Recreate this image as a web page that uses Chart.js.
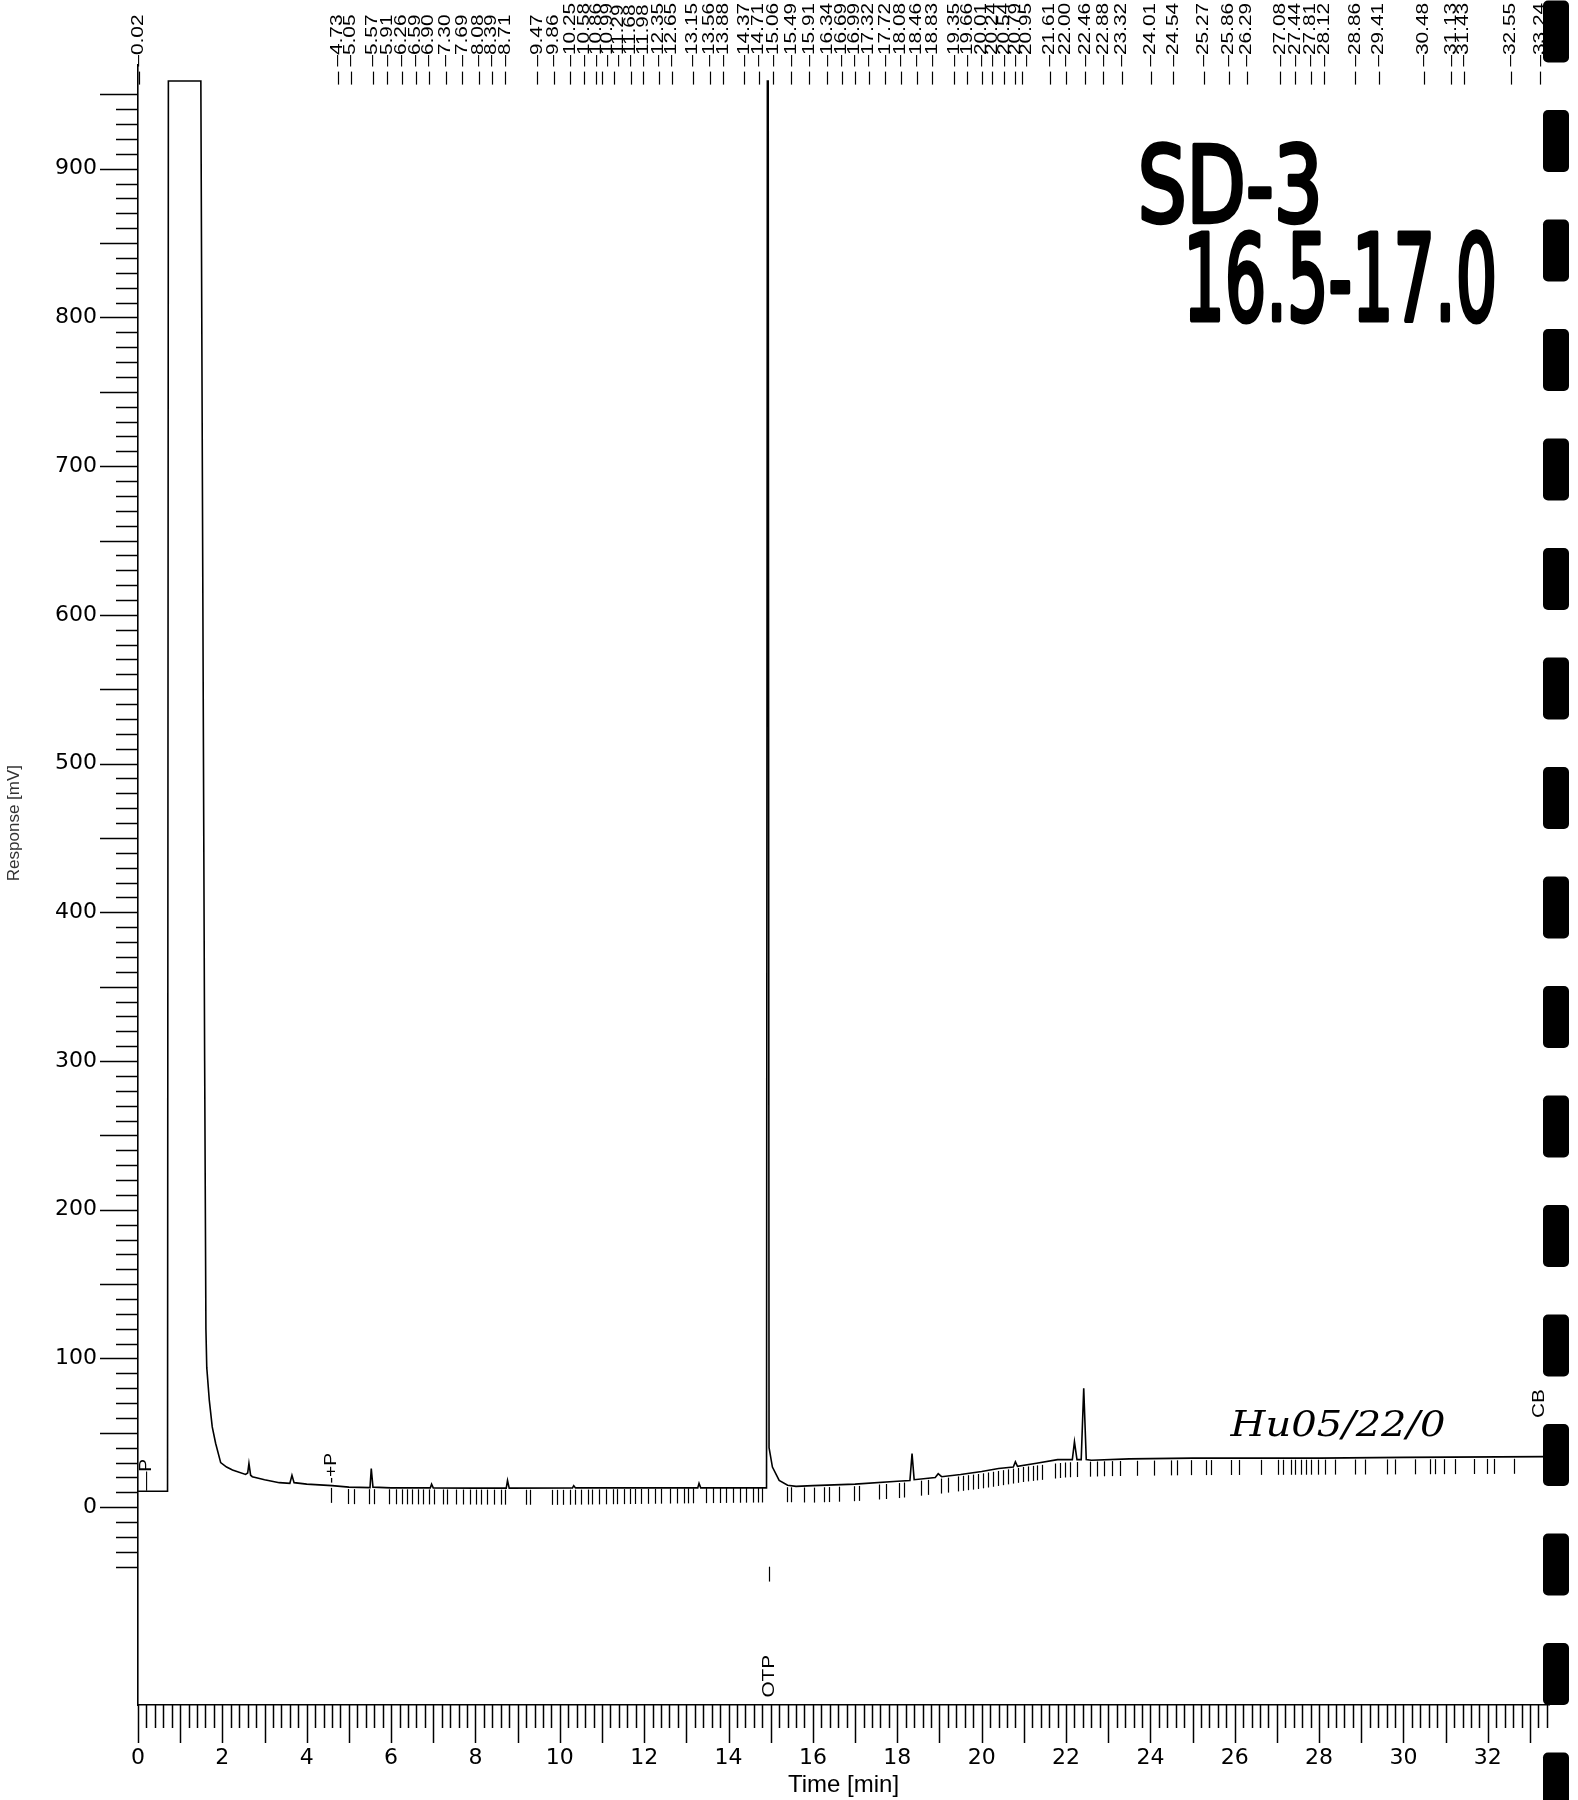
<!DOCTYPE html>
<html>
<head>
<meta charset="utf-8">
<script src="https://cdn.jsdelivr.net/npm/chart.js@4.4.1/dist/chart.umd.min.js"></script>
<style>
  body { margin: 0; background: #fff; }
  #wrap { width: 1578px; height: 1800px; }
</style>
</head>
<body>
<div id="wrap"><canvas id="chromCanvas" width="1578" height="1800"></canvas></div>
<script>
// detector trace: time (min) and response (mV)
var traceTime = [0, 0.70, 0.72, 1.49, 1.58, 1.61, 1.63, 1.69, 1.76, 1.84, 1.96, 2.10, 2.24, 2.55, 2.60, 2.63, 2.67, 2.71,
  3.00, 3.35, 3.60, 3.65, 3.70, 4.00, 4.60, 5.00, 5.50, 5.53, 5.57, 6.00, 6.93, 6.96, 7.00, 8.00, 8.73, 8.76, 8.80,
  10.30, 10.33, 10.37, 13.27, 13.30, 13.34, 14.90, 14.92, 14.94, 14.96, 15.04, 15.20, 15.40, 15.60, 16.00, 17.00,
  18.00, 18.30, 18.35, 18.40, 18.90, 18.97, 19.05, 19.50, 20.00, 20.40, 20.75, 20.80, 20.85, 21.30, 21.80, 22.15,
  22.20, 22.26, 22.36, 22.42, 22.48, 22.60, 23.50, 25.00, 28.00, 30.00, 33.40];
var traceResp = [10.7, 10.7, 959, 959, 300, 120, 94, 72, 54, 43, 30, 27, 25, 22, 23, 29.5, 21.5, 20.5,
  18.5, 16.5, 16, 21.5, 16.5, 15.5, 14.5, 13.5, 13.2, 26, 13.5, 13, 13, 15.5, 13, 12.8, 12.8, 18, 12.8,
  13, 14.5, 13, 13, 16, 13, 13, 959, 959, 40, 27, 18, 14.8, 14, 14.5, 15.5,
  17.5, 18, 36, 18.5, 20, 22.5, 20.5, 22, 24, 26, 27, 30.5, 27.5, 29.5, 32, 32,
  44, 32, 32, 80, 32, 31.6, 32.5, 33, 33, 33.5, 34];

// retention times printed along the top
var peakLabels = ['0.02', '4.73', '5.05', '5.57', '5.91', '6.26', '6.59', '6.90', '7.30', '7.69', '8.08', '8.39', '8.71',
  '9.47', '9.86', '10.25', '10.58', '10.86', '10.99', '11.29', '11.68', '11.98', '12.35', '12.65', '13.15', '13.56',
  '13.88', '14.37', '14.71', '15.06', '15.49', '15.91', '16.34', '16.69', '16.99', '17.32', '17.72', '18.08', '18.46',
  '18.83', '19.35', '19.66', '20.01', '20.24', '20.54', '20.79', '20.95', '21.61', '22.00', '22.46', '22.88', '23.32',
  '24.01', '24.54', '25.27', '25.86', '26.29', '27.08', '27.44', '27.81', '28.12', '28.86', '29.41', '30.48', '31.13',
  '31.43', '32.55', '33.24'];

// integration event ticks hanging under the baseline (min)
var eventTimes = [4.58, 4.97, 5.11, 5.48, 5.59, 5.96, 6.12, 6.27, 6.38, 6.49, 6.64, 6.75, 6.91, 7.01, 7.23, 7.33, 7.54,
  7.70, 7.86, 8.02, 8.13, 8.28, 8.44, 8.60, 8.71, 9.19, 9.29, 9.82, 9.93, 10.08, 10.24, 10.35, 10.51, 10.67, 10.77,
  10.93, 11.09, 11.25, 11.35, 11.51, 11.67, 11.78, 11.93, 12.09, 12.25, 12.41, 12.62, 12.78, 12.94, 13.05, 13.15,
  13.47, 13.63, 13.79, 13.95, 14.11, 14.27, 14.42, 14.58, 14.69, 14.80, 15.38, 15.49, 15.79, 16.03, 16.26, 16.38,
  16.62, 16.97, 17.09, 17.56, 17.73, 18.03, 18.15, 18.56, 18.74, 19.03, 19.21, 19.44, 19.56, 19.68, 19.79, 19.91,
  20.03, 20.15, 20.26, 20.38, 20.50, 20.62, 20.74, 20.85, 20.97, 21.09, 21.21, 21.32, 21.44, 21.74, 21.85, 21.97,
  22.09, 22.27, 22.56, 22.74, 22.91, 23.09, 23.27, 23.68, 24.09, 24.50, 24.62, 24.97, 25.32, 25.44, 25.91, 26.09,
  26.62, 27.03, 27.15, 27.33, 27.44, 27.56, 27.68, 27.80, 27.97, 28.15, 28.38, 28.86, 29.09, 29.62, 29.80, 30.27,
  30.62, 30.74, 30.97, 31.21, 31.68, 31.97, 32.15, 32.62];
// baseline level under the event ticks (min / mV)
var baseTime = [4.5, 5, 10, 15.4, 16, 17, 18, 19, 20, 21, 22, 23, 25, 30, 33.4];
var baseResp = [14.5, 13.5, 13, 14.8, 14.5, 15.5, 17.5, 20.5, 24, 28.5, 31.5, 32.3, 33, 33.5, 34];

var xTickLabels = [0, 2, 4, 6, 8, 10, 12, 14, 16, 18, 20, 22, 24, 26, 28, 30, 32];
var yTickLabels = [0, 100, 200, 300, 400, 500, 600, 700, 800, 900];

var tracePoints = traceTime.map(function(t, i) { return { x: t, y: traceResp[i] }; });

function baselineAt(t) {
  for (var i = 1; i < baseTime.length; i++) {
    if (t <= baseTime[i]) {
      var f = (t - baseTime[i - 1]) / (baseTime[i] - baseTime[i - 1]);
      return baseResp[i - 1] + f * (baseResp[i] - baseResp[i - 1]);
    }
  }
  return baseResp[baseResp.length - 1];
}

function seg(ctx, x1, y1, x2, y2) {
  ctx.beginPath(); ctx.moveTo(x1, y1); ctx.lineTo(x2, y2); ctx.stroke();
}

// rotated printer text, reading bottom to top
function vText(ctx, str, x, yBottom, size, stretch, align) {
  ctx.save();
  ctx.translate(x, yBottom);
  ctx.rotate(-Math.PI / 2);
  ctx.scale(stretch, 1);
  ctx.font = size + 'px "Liberation Sans"';
  ctx.textAlign = align || 'left';
  ctx.textBaseline = 'middle';
  ctx.fillText(str, 0, 0);
  ctx.restore();
}

// pen notes, squeezed to the size they have on the paper
function handText(ctx, str, x, yBase, font, w, h, capRatio, size, pen) {
  ctx.save();
  ctx.font = font;
  var mw = ctx.measureText(str).width;
  ctx.translate(x, yBase);
  ctx.scale(w / mw, h / (capRatio * size));
  ctx.textAlign = 'left';
  ctx.textBaseline = 'alphabetic';
  ctx.lineJoin = 'round';
  ctx.lineWidth = pen;
  ctx.fillText(str, 0, 0);
  if (pen > 0) ctx.strokeText(str, 0, 0);
  ctx.restore();
}

var paperMarks = {
  id: 'paperMarks',
  afterDraw: function(chart) {
    var ctx = chart.ctx, xs = chart.scales.x, ys = chart.scales.y, area = chart.chartArea;
    ctx.save();
    ctx.strokeStyle = '#000';
    ctx.fillStyle = '#000';
    ctx.lineWidth = 1.5;

    // y ticks every 10 mV, longer every 50
    for (var v = -40; v <= 950; v += 10) {
      var py = Math.round(ys.getPixelForValue(v)) + 0.5;
      seg(ctx, area.left - (v % 50 === 0 ? 38 : 22), py, area.left, py);
    }
    // x ticks every 0.2 min, longer each minute
    for (var i = 0; i <= 167; i++) {
      var px = Math.round(xs.getPixelForValue(i / 5)) + 0.5;
      seg(ctx, px, area.bottom, px, area.bottom + (i % 5 === 0 ? 38 : 23));
    }

    // peak labels along the top
    var prev = -1e9;
    ctx.lineWidth = 1.2;
    peakLabels.forEach(function(s) {
      var ideal = xs.getPixelForValue(parseFloat(s));
      var lx = Math.max(ideal, prev + 11);
      prev = lx;
      vText(ctx, '\u2013' + s, lx, area.top + 2, 16, 1.3);
      seg(ctx, Math.round(ideal) + 0.5, area.top + 7, Math.round(ideal) + 0.5, area.top + 20);
    });

    // event ticks under the baseline
    eventTimes.forEach(function(t) {
      var ex = Math.round(xs.getPixelForValue(t)) + 0.5;
      var ey = ys.getPixelForValue(baselineAt(t));
      seg(ctx, ex, ey + 2, ex, ey + 17);
    });

    // peak / event annotations
    vText(ctx, '\u2014P', xs.getPixelForValue(0.21), ys.getPixelForValue(11), 16, 1.2);
    vText(ctx, '-+P', xs.getPixelForValue(4.6), ys.getPixelForValue(16), 16, 1.2);
    vText(ctx, 'OTP', xs.getPixelForValue(14.97), ys.getPixelForValue(-128), 16, 1.3);
    vText(ctx, 'CB', xs.getPixelForValue(33.22), ys.getPixelForValue(60), 16, 1.3);
    var ox = Math.round(xs.getPixelForValue(14.97)) + 0.5;
    seg(ctx, ox, ys.getPixelForValue(-40), ox, ys.getPixelForValue(-50));

    // y axis title
    ctx.fillStyle = '#333';
    vText(ctx, 'Response [mV]', area.left - 124, ys.getPixelForValue(460), 17, 1.0, 'center');

    // hand-written notes
    ctx.fillStyle = '#000';
    ctx.strokeStyle = '#000';
    handText(ctx, 'SD-3', xs.getPixelForValue(23.7), ys.getPixelForValue(864),
      '72px "DejaVu Sans"', 185, 77, 0.729, 72, 3);
    handText(ctx, '16.5-17.0', xs.getPixelForValue(24.78), ys.getPixelForValue(798),
      '72px "DejaVu Sans"', 314, 87, 0.729, 72, 3);
    handText(ctx, 'Hu05/22/0', xs.getPixelForValue(25.9), ys.getPixelForValue(48),
      'italic 28px "DejaVu Serif"', 215, 26, 0.729, 28, 0);

    // sprocket holes of the chart paper at the right edge
    for (var k = -1; k <= 15; k++) {
      var by = 110 + k * 109.5;
      ctx.beginPath();
      ctx.roundRect(1543, by, 26, 62, 5);
      ctx.fill();
    }
    ctx.restore();
  }
};

var ctx = document.getElementById('chromCanvas').getContext('2d');
var chrom = new Chart(ctx, {
  type: 'line',
  data: {
    datasets: [{
      label: 'Response',
      data: tracePoints,
      borderColor: '#000',
      borderWidth: 1.6,
      pointRadius: 0,
      tension: 0,
      fill: false
    }]
  },
  options: {
    responsive: false,
    animation: false,
    layout: { padding: { left: 5, right: 29, top: 64.6, bottom: 0 } },
    plugins: { legend: { display: false }, tooltip: { enabled: false } },
    scales: {
      x: {
        type: 'linear', min: 0, max: 33.45,
        grid: { display: false, drawTicks: false },
        border: { display: true, color: '#000', width: 1.6 },
        afterBuildTicks: function(s) { s.ticks = xTickLabels.map(function(v) { return { value: v }; }); },
        afterFit: function(s) { s.height = 95; },
        ticks: { padding: 40, color: '#000', autoSkip: false, maxRotation: 0,
          font: { family: 'DejaVu Sans', size: 22 } },
        title: { display: true, text: 'Time [min]', color: '#000', padding: 0,
          font: { family: 'Liberation Sans', size: 24 } }
      },
      y: {
        type: 'linear', min: -133, max: 970,
        grid: { display: false, drawTicks: false },
        border: { display: true, color: '#000', width: 1.6 },
        afterBuildTicks: function(s) { s.ticks = yTickLabels.map(function(v) { return { value: v }; }); },
        afterFit: function(s) { s.width = 133; },
        ticks: { padding: 41, color: '#000', autoSkip: false,
          font: { family: 'DejaVu Sans', size: 22 } }
      }
    }
  },
  plugins: [paperMarks]
});
</script>
</body>
</html>
